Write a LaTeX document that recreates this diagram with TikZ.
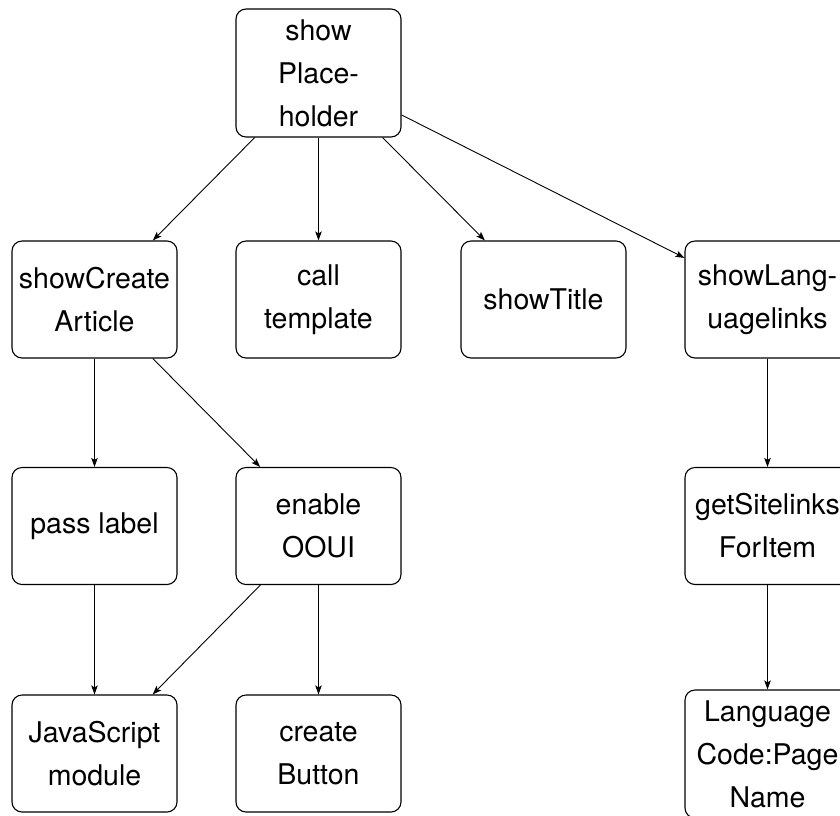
\documentclass[tikz,border=0pt]{standalone}
\usepackage{fontspec}
\setmainfont{TeX Gyre Heros}
\usetikzlibrary{arrows.meta}
\begin{document}
\begin{tikzpicture}[x=1pt,y=-1pt,
  box/.style={draw=black, line width=1.1pt, rounded corners=10pt, align=center,
    inner sep=0pt, minimum width=165pt, minimum height=117pt,
    font=\fontsize{28.5}{43}\selectfont},
  tall/.style={minimum height=128pt},
  link/.style={draw=black, line width=0.9pt, -{Stealth[length=9pt,width=6.5pt,inset=2pt]}}
]
\useasboundingbox (0,0) rectangle (840,815);
\clip (0,0) rectangle (840,815);

% top node
\node[box,tall] (ph)  at (318.5,73)    {show\\Place-\\holder};

% second row
\node[box] (sca) at (94.5,299.5)  {showCreate\\Article};
\node[box] (ct)  at (318.5,299.5) {call\\template};
\node[box] (st)  at (543.5,299.5) {showTitle};
\node[box] (sll) at (767.5,299.5) {showLang-\\uagelinks};

% third row
\node[box] (pl)  at (94.5,526)    {pass label};
\node[box] (eo)  at (318.5,526)   {enable\\OOUI};
\node[box] (gs)  at (767.5,526)   {getSitelinks\\ForItem};

% bottom row
\node[box] (js)  at (94.5,753.5)  {JavaScript\\module};
\node[box] (cb)  at (318.5,753.5) {create\\Button};
\node[box,tall] (lc) at (767.5,754) {Language\\Code:Page\\Name};

% calls
\draw[link] (ph) -- (sca);
\draw[link] (ph) -- (ct);
\draw[link] (ph) -- (st);
\draw[link] (ph) -- (sll);
\draw[link] (sca) -- (pl);
\draw[link] (sca) -- (eo);
\draw[link] (pl) -- (js);
\draw[link] (eo) -- (js);
\draw[link] (eo) -- (cb);
\draw[link] (sll) -- (gs);
\draw[link] (gs) -- (lc);
\end{tikzpicture}
\end{document}
